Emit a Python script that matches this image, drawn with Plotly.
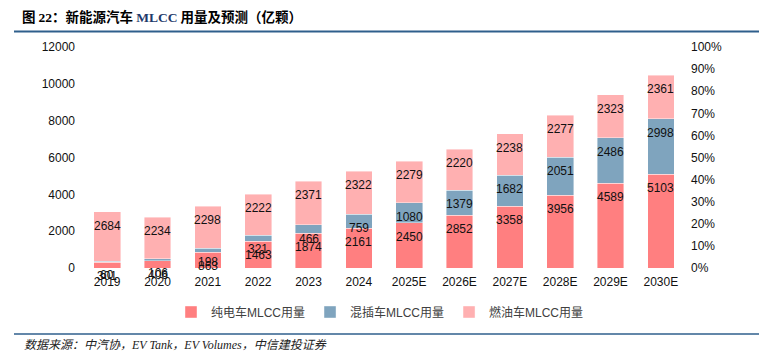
import plotly.graph_objects as go

years = ["2019", "2020", "2021", "2022", "2023", "2024", "2025E", "2026E", "2027E", "2028E", "2029E", "2030E"]
ev = [301, 406, 863, 1463, 1874, 2161, 2450, 2852, 3358, 3956, 4589, 5103]
phev = [60, 106, 198, 321, 466, 759, 1080, 1379, 1682, 2051, 2486, 2998]
ice = [2684, 2234, 2298, 2222, 2371, 2322, 2279, 2220, 2238, 2277, 2323, 2361]

names = ["纯电车MLCC用量", "混插车MLCC用量", "燃油车MLCC用量"]
colors = ["#FF7F80", "#7FA4BE", "#FFB0B1"]
series = [ev, phev, ice]

OFF = 8  # page body margin
W, H = 767 - OFF, 361 - OFF
L, R, T, B = 74, 81, 39, 93
pw, ph = W - L - R, H - T - B

def px_x(p):
    # p given in reference-screen pixels
    return (p - OFF - L) / pw

def px_y(p):
    return (H - B - (p - OFF)) / ph

fig = go.Figure()
for name, col, vals in zip(names, colors, series):
    fig.add_trace(go.Bar(
        x=years, y=vals, name=name,
        marker=dict(color=col, line=dict(color="rgba(255,255,255,0.7)", width=0.6)),
    ))

# empty trace on the secondary axis so that it is drawn
fig.add_trace(go.Scatter(x=years, y=[None] * len(years), yaxis="y2", showlegend=False,
                         hoverinfo="skip", mode="markers"))

annotations = []
cum = [0] * len(years)
for vals in series:
    for i, v in enumerate(vals):
        cum[i] += v
        annotations.append(dict(
            x=i, y=cum[i], xref="x", yref="y", text=str(v),
            showarrow=False, yanchor="middle", xanchor="center", yshift=-14,
            font=dict(family="Liberation Sans, Arial", size=12, color="#111"),
        ))

annotations.append(dict(
    xref="paper", yref="paper", x=px_x(22), y=px_y(345), xanchor="left", yanchor="middle",
    showarrow=False,
    text="<i>数据来源：中汽协，EV Tank，EV Volumes，中信建投证券</i>",
    font=dict(family="Liberation Serif, Noto Sans CJK SC", size=12, color="#222"),
))

fig.update_layout(
    width=W, height=H,
    margin=dict(l=L, r=R, t=T, b=B, pad=0),
    paper_bgcolor="white", plot_bgcolor="white",
    barmode="stack", bargap=0.47,
    title=dict(
        text=("<b>图 <span style='font-family:Liberation Serif'>22</span>：新能源汽车 "
              "<span style='font-family:Liberation Serif;color:#1F3A6B'>MLCC</span> 用量及预测（亿颗）</b>"),
        xref="container", yref="container", x=(22 - OFF) / W, xanchor="left",
        y=1 - (17 - OFF) / H, yanchor="middle",
        font=dict(family="Noto Sans CJK SC", size=13.5, color="#000"),
    ),
    font=dict(family="Liberation Sans, Arial, Noto Sans CJK SC", size=12, color="#111"),
    xaxis=dict(type="category", range=[-0.5, len(years) - 0.5], showline=False, ticks="",
               showgrid=False, tickfont=dict(size=12, color="#111"), ticklabelstandoff=5),
    yaxis=dict(range=[0, 12000], dtick=2000, tickformat="d", showgrid=False, zeroline=False,
               showline=False, ticks="", tickfont=dict(size=12, color="#111"),
               ticklabelstandoff=6),
    yaxis2=dict(range=[0, 1], dtick=0.1, tickformat=".0%", overlaying="y", side="right",
                showgrid=False, zeroline=False, showline=False, ticks="",
                tickfont=dict(size=12, color="#111"), ticklabelstandoff=4),
    legend=dict(orientation="h", xref="paper", yref="paper", x=px_x(380), y=px_y(312),
                xanchor="center", yanchor="middle", font=dict(size=12, color="#404040",
                family="Liberation Sans, Noto Sans CJK SC"),
                traceorder="normal"),
    annotations=annotations,
    shapes=[
        dict(type="line", xref="paper", yref="paper", x0=px_x(14), x1=px_x(767),
             y0=px_y(31.5), y1=px_y(31.5), line=dict(color="#2F5F8C", width=2)),
        dict(type="line", xref="paper", yref="paper", x0=px_x(14), x1=px_x(767),
             y0=px_y(334), y1=px_y(334), line=dict(color="#2F5F8C", width=1.5)),
    ],
    showlegend=True,
)

fig.write_html("out.html")
